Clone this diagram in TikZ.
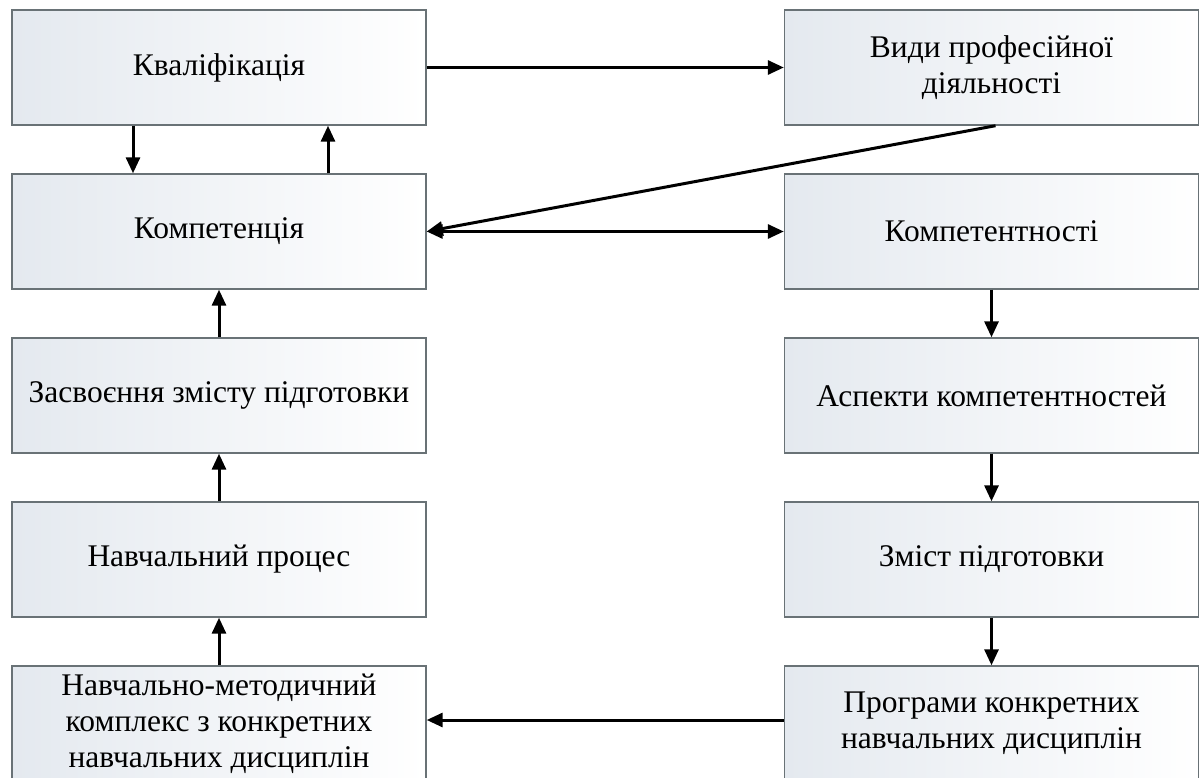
\documentclass[tikz,border=0pt]{standalone}
\usepackage{fontspec}
\setmainfont{Liberation Serif}
\usetikzlibrary{arrows.meta}
\definecolor{boxedge}{RGB}{105,114,118}
\definecolor{boxshade}{RGB}{228,233,239}
\tikzset{
  block/.style={draw=boxedge, line width=1.4pt, left color=boxshade, right color=white,
    minimum width=414pt, minimum height=115pt, align=center, inner sep=0pt,
    font=\fontsize{31.5}{36}\selectfont},
  link/.style={line width=3pt, -{Triangle[length=16pt,width=14pt]}},
  duallink/.style={line width=3pt, {Triangle[length=16pt,width=14pt]}-{Triangle[length=16pt,width=14pt]}}
}
\begin{document}
\begin{tikzpicture}[x=1pt,y=-1pt]
\useasboundingbox (0,0) rectangle (1201,778);
\fill[white] (0,0) rectangle (1201,778);
\begin{scope}
\clip (0,0) rectangle (1201,778);
% left column
\node[block] (qual) at (219,67.5) {Кваліфікація};
\node[block] (comp) at (219,231.5) {Компетенція};
\node[block] (assim) at (219,395.5) {Засвоєння змісту підготовки};
\node[block] (proc) at (219,559.5) {Навчальний процес};
\node[block] (nmk) at (219,723.5) {Навчально-методичний\\комплекс з конкретних\\навчальних дисциплін};
% right column
\node[block] (kinds) at (991.5,67.5) {Види професійної\\діяльності};
\node[block] (compt) at (991.5,231.5) {Компетентності};
\node[block] (asp) at (991.5,395.5) {Аспекти компетентностей};
\node[block] (cont) at (991.5,559.5) {Зміст підготовки};
\node[block] (prog) at (991.5,723.5) {\raisebox{9pt}{\begin{tabular}{@{}c@{}}Програми конкретних\\навчальних дисциплін\end{tabular}}};
\end{scope}
% connectors
\draw[link] (qual.east) -- (kinds.west);
\draw[link] (qual.south -| 133,0) -- (comp.north -| 133,0);
\draw[link] (comp.north -| 328,0) -- (qual.south -| 328,0);
\draw[link] ([xshift=4pt]kinds.south) -- (comp.east);
\draw[duallink] (comp.east) -- (compt.west);
\draw[link] (compt.south) -- (asp.north);
\draw[link] (asp.south) -- (cont.north);
\draw[link] (cont.south) -- (prog.north);
\draw[link] (assim.north) -- (comp.south);
\draw[link] (proc.north) -- (assim.south);
\draw[link] (nmk.north) -- (proc.south);
\draw[link] (prog.west |- 0,720) -- (nmk.east |- 0,720);
\end{tikzpicture}
\end{document}
